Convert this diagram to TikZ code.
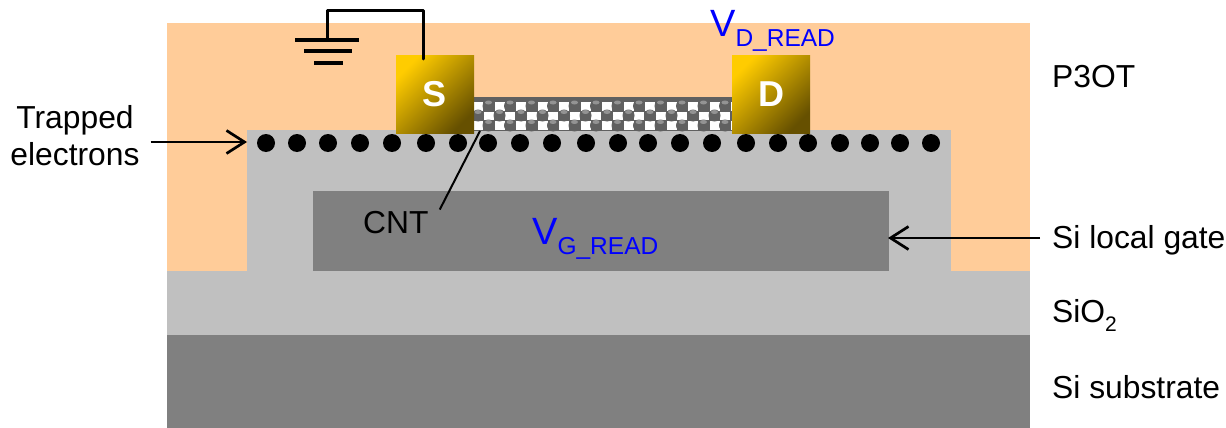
\documentclass[tikz,border=0pt]{standalone}
\usepackage{fontspec}
\setmainfont{Liberation Sans}
\usepackage{tikz}
\usetikzlibrary{arrows.meta}
\definecolor{pthree}{RGB}{255,204,153}
\definecolor{oxide}{RGB}{192,192,192}
\definecolor{silicon}{RGB}{128,128,128}
\definecolor{goldA}{RGB}{255,204,0}
\definecolor{goldB}{RGB}{102,80,0}
\definecolor{volt}{RGB}{0,0,255}
\definecolor{tube}{RGB}{96,96,96}
\tikzset{
  lbl/.style={inner sep=0pt, anchor=base west, font=\fontsize{31.8}{37}\selectfont},
  vlbl/.style={inner sep=0pt, anchor=base west, text=volt, font=\fontsize{38}{40}\selectfont},
  contact/.style={minimum size=78pt, inner sep=0pt, text=white, font=\fontsize{36}{38}\selectfont\bfseries,
    shading=axis, top color=goldA, bottom color=goldB, shading angle=45},
  wire/.style={line width=3pt, line cap=round, line join=round},
  pointer/.style={line width=2.7pt, -{Straight Barb[length=18pt,width=23pt,line width=2.7pt]}},
  electron/.style={circle, fill=black, minimum size=18pt, inner sep=0pt}
}
\newcommand{\subtxt}[1]{\raisebox{-10pt}{\fontsize{24.5}{28}\selectfont #1}}
\begin{document}
\begin{tikzpicture}[x=1pt, y=-1pt]
	\useasboundingbox (0,0) rectangle (1226,428);
	% layers
	\fill[pthree] (167,23) rectangle (1030,271);
	\fill[oxide] (167,271) rectangle (1030,335);
	\fill[silicon] (167,335) rectangle (1030,428);
	\fill[oxide] (247,130) rectangle (951,272);
	\fill[silicon] (313,191) rectangle (889,271);
	\coordinate (oxleft) at (247,142);
	\coordinate (gateright) at (888,238);
	% nanotube
	\fill[tube] (474,97) rectangle (732,131);
	\begin{scope}
		\clip (474,97) rectangle (732,131);
		\foreach \i in {0,...,12} {
			\pgfmathsetmacro{\xa}{478+21.5*\i}
			\pgfmathsetmacro{\xb}{488.5+21.5*\i}
			\fill[white] (\xa-5,102) rectangle (\xa+5,110.5);
			\fill[white] (\xb-5,111.5) rectangle (\xb+5,119.5);
			\fill[white] (\xa-5,121) rectangle (\xa+5,130);
			\fill[tube] (\xb,106) circle (6);
			\fill[tube] (\xa,115.5) circle (6);
			\fill[tube] (\xb,125.5) circle (6);
			\fill[gray!85] (\xb,102.5) ellipse (3.5 and 2);
			\fill[gray!85] (\xa,112) ellipse (3.5 and 2);
			\fill[gray!85] (\xb,122) ellipse (3.5 and 2);
		}
	\end{scope}
	% electrons
	\foreach \p in {266,297,328,360,392,426,458,488,520,552,586,618,648,680,712,746,778,808,840,870,900,931}
		\node[electron] (e\p) at (\p,143) {};
	% contacts
	\node[contact] (S) at (435,94.5) {S\hspace{7pt}};
	\node[contact] (D) at (771,94.5) {D\hspace{7pt}};
	% ground
	\coordinate (gnd) at (327,40);
	\draw[wire] (gnd)--(327,11)--(423,11)--(423,59);
	\draw[line width=3.5pt] (295,40)--(359,40) (304,51)--(352,51) (314,63)--(343,63);
	% labels
	\node[lbl] (ptlabel) at (1052,88) {P3OT};
	\node[lbl] (gatelabel) at (1052,248) {Si local gate};
	\node[lbl] (sio) at (1052,322) {SiO\raisebox{-9pt}{\fontsize{21}{24}\selectfont 2}};
	\node[lbl] (sub) at (1052,398) {Si substrate};
	\node[lbl] (cnt) at (363,233) {CNT};
	\node[lbl, align=center, anchor=center] (trap) at (75,136) {Trapped\\electrons};
	\node[vlbl] (vd) at (710,37) {V\subtxt{D\_READ}};
	\node[vlbl] (vg) at (532,244) {V\subtxt{G\_READ}};
	% pointers
	\draw[pointer] (trap.east |- oxleft) ++(11,0)--(oxleft);
	\draw[pointer] (gatelabel.west |- gateright) ++(-12,0)--(gateright);
	\draw[line width=2pt] (cnt.north east) ++(11,-1)--(480,131);
\end{tikzpicture}
\end{document}
